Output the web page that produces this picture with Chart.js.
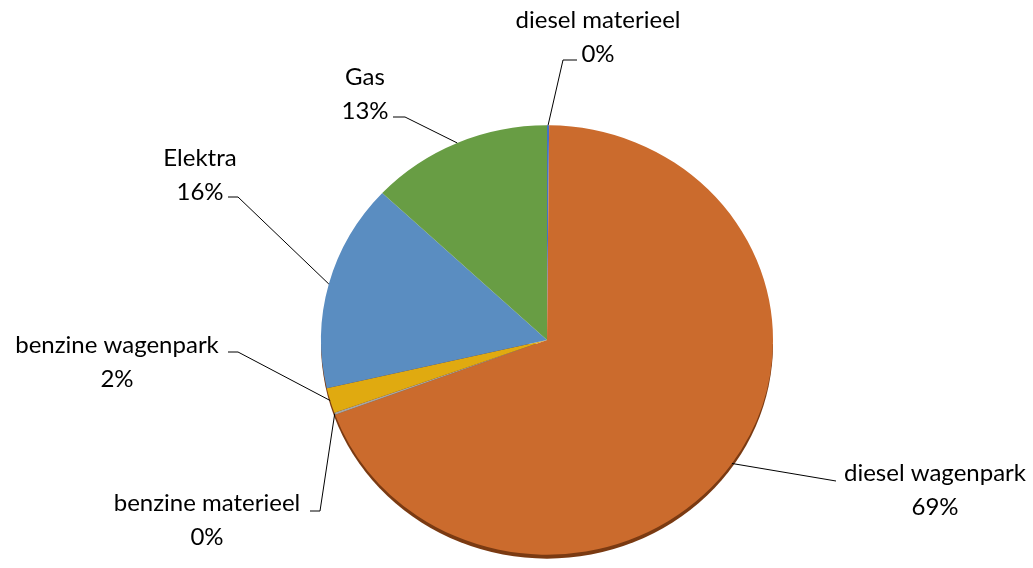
<!DOCTYPE html>
<html>
<head>
<meta charset="utf-8">
<script src="https://cdn.jsdelivr.net/npm/chart.js@4.4.0/dist/chart.umd.min.js"></script>
<style>
  html, body { margin: 0; padding: 0; background: #fff; }
  #wrap { width: 1033px; height: 568px; position: relative; }
</style>
</head>
<body>
<div id="wrap"><canvas id="grafik"></canvas></div>
<script>
// data
const categories = ['diesel materieel', 'diesel wagenpark', 'benzine materieel', 'benzine wagenpark', 'Elektra', 'Gas'];
const shares = [0.15, 69.2, 0.15, 1.9, 15.6, 13.0];
const shareLabels = ['0%', '69%', '0%', '2%', '16%', '13%'];
const colors = ['#4472C4', '#CB6B2D', '#A5A5A5', '#E0AA10', '#5A8DC1', '#689D44'];

// label layout: text centre, first line y, stub start, stub end
const labelLayout = [
    { x: 598, y: 20, s: [577, 60], e: [563, 60] },
    { x: 935, y: 473, s: [836, 481], e: [836, 481] },
    { x: 207, y: 503, s: [310, 511], e: [320, 511] },
    { x: 117, y: 345, s: [228, 352], e: [238, 352] },
    { x: 200, y: 158, s: [228, 197], e: [238, 197] },
    { x: 365, y: 77, s: [393, 117], e: [405, 117] }
];

const squash = 0.95; // pie seen slightly from above

const tiltPlugin = {
    id: 'tilt',
    beforeDatasetsDraw(chart) {
        const ctx = chart.ctx;
        const arc = chart.getDatasetMeta(0).data[0];
        const cx = arc.x, cy = arc.y, r = arc.outerRadius;
        ctx.save();
        // dark rim under the pie
        ctx.beginPath();
        ctx.ellipse(cx, cy + 4, r, r * squash, 0, 0, Math.PI);
        ctx.fillStyle = '#7a3a12';
        ctx.fill();
        ctx.translate(cx, cy);
        ctx.scale(1, squash);
        ctx.translate(-cx, -cy);
    },
    afterDatasetsDraw(chart) {
        const ctx = chart.ctx;
        ctx.restore();
        const meta = chart.getDatasetMeta(0);
        ctx.save();
        ctx.font = '24px Lato';
        ctx.fillStyle = '#000';
        ctx.textAlign = 'center';
        ctx.textBaseline = 'middle';
        ctx.strokeStyle = '#000';
        ctx.lineWidth = 1;
        meta.data.forEach((a, i) => {
            const mid = (a.startAngle + a.endAngle) / 2;
            const px = a.x + a.outerRadius * Math.cos(mid);
            const py = a.y + a.outerRadius * Math.sin(mid) * squash;
            const l = labelLayout[i];
            ctx.beginPath();
            ctx.moveTo(l.s[0], l.s[1]);
            ctx.lineTo(l.e[0], l.e[1]);
            ctx.lineTo(px, py);
            ctx.stroke();
            ctx.fillText(categories[i], l.x, l.y);
            ctx.fillText(shareLabels[i], l.x, l.y + 34);
        });
        ctx.restore();
    }
};

const grf = document.getElementById('grafik').getContext('2d');

const veri = {
    labels: categories,
    datasets: [{
        data: shares,
        backgroundColor: colors,
        borderWidth: 0
    }]
};

const con = {
    type: 'pie',
    data: veri,
    options: {
        responsive: true,
        maintainAspectRatio: false,
        animation: false,
        layout: {
            padding: { left: 200, right: 139, top: 114, bottom: 2 }
        },
        plugins: {
            legend: { display: false },
            tooltip: { enabled: false }
        }
    },
    plugins: [tiltPlugin]
};

new Chart(grf, con);
</script>
</body>
</html>
